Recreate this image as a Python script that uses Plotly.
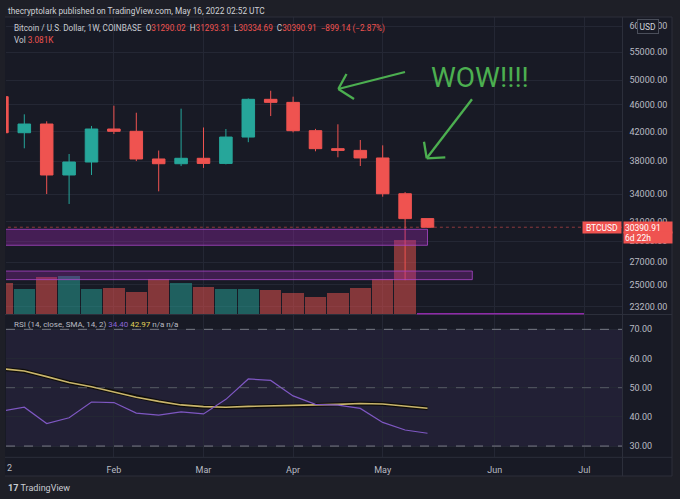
import math
import pandas as pd
import plotly.graph_objects as go

# ---------------- data ----------------
dates = ["2022-01-03", "2022-01-10", "2022-01-17", "2022-01-24", "2022-01-31",
         "2022-02-07", "2022-02-14", "2022-02-21", "2022-02-28", "2022-03-07",
         "2022-03-14", "2022-03-21", "2022-03-28", "2022-04-04", "2022-04-11",
         "2022-04-18", "2022-04-25", "2022-05-02", "2022-05-09", "2022-05-16"]
opens = [47280, 41850, 43100, 36270, 37900, 42380, 42050, 38290, 37680, 38380,
         37720, 41240, 46860, 46380, 42140, 39650, 39420, 38420, 34040, 31290.02]
highs = [47570, 44540, 43500, 38940, 42820, 45860, 44780, 39400, 45400, 42600,
         42380, 47000, 48240, 47280, 42400, 43060, 40830, 40100, 34230, 31293.31]
lows = [40610, 39700, 34010, 32880, 36270, 41670, 38020, 34320, 37380, 37150,
        37600, 40530, 44280, 41900, 39300, 38510, 37390, 33700, 25400, 30334.69]
closes = [41850, 43100, 36270, 37900, 42380, 42050, 38290, 37680, 38380, 37720,
          41240, 46860, 46380, 42140, 39650, 39420, 38420, 34040, 31290.05, 30390.91]
volumes_k = [94, 76, 115, 116, 76, 80, 69, 107, 94, 84,
             76, 78, 74, 66, 52, 64, 80, 109, 228, 3.081]
rsi_values = [42.0, 43.3, 37.7, 39.7, 45.1, 44.9, 41.3, 40.6, 41.7, 41.0,
              46.0, 53.0, 52.5, 47.2, 44.3, 44.0, 42.9, 38.1, 35.5, 34.40]
rsi_sma = [56.5, 55.7, 53.8, 51.8, 50.3, 48.6, 46.7, 45.3, 44.1, 43.5,
           43.3, 43.6, 43.7, 43.8, 44.1, 44.3, 44.6, 44.4, 43.7, 42.97]
price_ticks = [23200, 25000, 27000, 29000, 31000, 34000, 38000, 42000, 46000,
               50000, 55000, 60000]
rsi_ticks = [30, 40, 50, 60, 70]
rsi_bands = [30, 50, 70]
month_ticks = ["2022-02-07", "2022-03-07", "2022-04-04", "2022-05-02",
               "2022-06-06", "2022-07-04"]
month_labels = ["Feb", "Mar", "Apr", "May", "Jun", "Jul"]
zone_upper = [28590, 30180]
zone_lower = [25450, 26200]
zone_upper_end = "2022-05-16"
zone_lower_end = "2022-05-30"

# ---------------- layout helpers ----------------
W, H = 680, 499
def fx(p): return p / W
def fy(p): return 1 - p / H

BG_OUT = "#1e1f27"
BG = "#181a25"
GRID = "#242734"
BORDER = "#2c2f3b"
TXT = "#b8bbc3"
RED = "#ef5350"
GREEN = "#26a69a"
FONT = "Roboto"

P0, Y0, K = 60000.0, 26.3, 295.4
def price_at(py): return P0 * math.exp(-(py - Y0) / K)
def rsi_at(py): return 50 - (py - 387.7) / 2.918

MAIN_TOP, MAIN_BOT = 17, 314
RSI_TOP, RSI_BOT = 315, 456.7
PX_L, PX_R = 6, 622.5
t0 = pd.Timestamp(dates[0])
PX_PER_DAY = 3.2
x_start = t0 + pd.Timedelta(days=(PX_L - 1.9) / PX_PER_DAY)
x_end = t0 + pd.Timedelta(days=(PX_R - 1.9) / PX_PER_DAY)
xr = [x_start.strftime("%Y-%m-%d %H:%M:%S"), x_end.strftime("%Y-%m-%d %H:%M:%S")]

fig = go.Figure()

# volume (base axis y, linear)
vol_colors = ["rgba(38,166,154,0.5)" if c >= o else "rgba(239,83,80,0.5)"
              for o, c in zip(opens, closes)]
fig.add_trace(go.Bar(x=dates, y=volumes_k, marker=dict(color=vol_colors, line=dict(width=0)),
                     width=6.72 * 86400000, xaxis="x", yaxis="y", showlegend=False,
                     hoverinfo="skip"))

# candles (overlay axis y3, log)
fig.add_trace(go.Candlestick(x=dates, open=opens, high=highs, low=lows, close=closes,
                             increasing=dict(line=dict(color=GREEN, width=1), fillcolor=GREEN),
                             decreasing=dict(line=dict(color=RED, width=1), fillcolor=RED),
                             whiskerwidth=0, xaxis="x", yaxis="y3", showlegend=False,
                             hoverinfo="skip"))

# current price dotted line
fig.add_trace(go.Scatter(x=[dates[0], "2022-08-01"], y=[closes[-1], closes[-1]],
                         mode="lines", line=dict(color="rgba(239,83,80,0.55)", width=1, dash="dot"),
                         xaxis="x", yaxis="y3", showlegend=False, hoverinfo="skip"))

# RSI lines
fig.add_trace(go.Scatter(x=dates, y=rsi_sma, mode="lines",
                         line=dict(color="rgba(15,13,8,0.95)", width=4),
                         xaxis="x2", yaxis="y2", showlegend=False, hoverinfo="skip"))
fig.add_trace(go.Scatter(x=dates, y=rsi_sma, mode="lines",
                         line=dict(color="#c9b56c", width=1.6),
                         xaxis="x2", yaxis="y2", showlegend=False, hoverinfo="skip"))
fig.add_trace(go.Scatter(x=dates, y=rsi_values, mode="lines",
                         line=dict(color="#7e57c2", width=1.2),
                         xaxis="x2", yaxis="y2", showlegend=False, hoverinfo="skip"))

shapes = []
# chart panel background
shapes.append(dict(type="rect", xref="paper", yref="paper", x0=fx(5), x1=fx(672),
                   y0=fy(476), y1=fy(MAIN_TOP), fillcolor=BG, line=dict(width=0), layer="below"))
# RSI band fill
shapes.append(dict(type="rect", xref="x2 domain", yref="y2", x0=0, x1=1,
                   y0=rsi_bands[0], y1=rsi_bands[2], fillcolor="rgba(126,87,194,0.1)",
                   line=dict(width=0), layer="below"))
for b in rsi_bands:
    shapes.append(dict(type="line", xref="x2 domain", yref="y2", x0=0, x1=1, y0=b, y1=b,
                       line=dict(color="#787b86" if b != 50 else "rgba(120,123,134,0.6)",
                                 width=1, dash="dash"), layer="above"))
# borders
for (a, b, c, d) in [(PX_R, MAIN_TOP, PX_R, 476), (5, 314.5, 672, 314.5),
                     (5, 457.3, 672, 457.3), (5, 476, 672, 476), (5, MAIN_TOP, 672, MAIN_TOP),
                     (672, MAIN_TOP, 672, 476)]:
    shapes.append(dict(type="line", xref="paper", yref="paper", x0=fx(a), y0=fy(b),
                       x1=fx(c), y1=fy(d), line=dict(color=BORDER, width=1), layer="above"))
# purple zones
shapes.append(dict(type="rect", xref="x", yref="y3", x0="2021-12-01", x1=zone_upper_end,
                   y0=zone_upper[0], y1=zone_upper[1], fillcolor="rgba(156,39,176,0.35)",
                   line=dict(color="rgba(170,70,200,0.8)", width=1), layer="above"))
shapes.append(dict(type="rect", xref="x", yref="y3", x0="2021-12-01", x1=zone_lower_end,
                   y0=zone_lower[0], y1=zone_lower[1], fillcolor="rgba(156,39,176,0.30)",
                   line=dict(color="rgba(170,70,200,0.8)", width=1), layer="above"))
# bottom purple stroke
shapes.append(dict(type="line", xref="paper", yref="paper", x0=fx(417), x1=fx(584),
                   y0=fy(313.7), y1=fy(313.7), line=dict(color="#8e2aa8", width=1.5)))
# green hand-drawn arrows
GC = "#4caf50"
def seg(x0, y0, x1, y1):
    return dict(type="line", xref="paper", yref="paper", x0=fx(x0), y0=fy(y0),
                x1=fx(x1), y1=fy(y1), line=dict(color=GC, width=2.3))
shapes += [seg(405, 72, 338.3, 89), seg(338.3, 89, 346.5, 74), seg(338.3, 89, 354, 99),
           seg(472, 99.3, 426.7, 158.3), seg(426.7, 158.3, 424, 141.7),
           seg(426.7, 158.3, 445.3, 157.3)]

annotations = []
def txt(x, y, text, size=8.2, color=TXT, xanchor="left", **kw):
    d = dict(xref="paper", yref="paper", x=fx(x), y=fy(y), text=text, showarrow=False,
             xanchor=xanchor, yanchor="middle", font=dict(family=FONT, size=size, color=color))
    d.update(kw)
    annotations.append(d)

sp = "\u00a0"
txt(6, 10.7, "thecryptolark published on TradingView.com, May 16, 2022 02:52 UTC",
    size=8.3, color="#cfd1d6")
chg = closes[-1] - closes[-2]
pct = chg / closes[-2] * 100
legend = ("Bitcoin / U.S. Dollar, 1W, COINBASE" + sp * 2 +
          "O<span style='color:{r}'>{o:.2f}</span>{s}H<span style='color:{r}'>{h:.2f}</span>{s}"
          "L<span style='color:{r}'>{l:.2f}</span>{s}C<span style='color:{r}'>{c:.2f}</span>{s}"
          "<span style='color:{r}'>\u2212{a:.2f} (\u2212{p:.2f}%)</span>").format(
    r=RED, o=opens[-1], h=highs[-1], l=lows[-1], c=closes[-1], s=sp * 2, a=abs(chg), p=abs(pct))
txt(12, 28, legend, size=8.2, color="#c9ccd2")
txt(12, 39.5, "Vol" + sp + "<span style='color:{}'>{:.3f}K</span>".format(RED, volumes_k[-1]),
    size=8.2, color="#c9ccd2")
txt(12, 324.5, "RSI (14, close, SMA, 14, 2)" + sp +
    "<span style='color:#8a64d6'>{:.2f}</span>".format(rsi_values[-1]) + sp +
    "<span style='color:#e3d35a'>{:.2f}</span>".format(rsi_sma[-1]) + sp + "n/a" + sp + "n/a",
    size=8.0, color="#b8bbc3")
txt(480, 77, "WOW!!!!", size=28, color=GC, xanchor="center")
txt(9, 467.7, "2", size=9, color=TXT, xanchor="center")
txt(6, 488, "<b>17</b>" + sp + "TradingView", size=9, color="#c9ccd2")
# USD box
txt(648, 26.5, "USD", size=8.5, color="#d1d4dc", xanchor="center", bgcolor=BG,
    bordercolor="#4a4e5a", borderwidth=1, borderpad=1.5)
# BTCUSD / price labels anchored at last close
ly = math.log10(closes[-1])
annotations.append(dict(xref="paper", yref="y3", x=fx(PX_R - 0.5), y=ly,
                        text="BTCUSD", showarrow=False, xanchor="right", yanchor="middle",
                        font=dict(family=FONT, size=8.5, color="white"), bgcolor=RED,
                        borderpad=1, width=36, height=9))
annotations.append(dict(xref="paper", yref="y3", x=fx(PX_R), y=ly,
                        text="{:.2f}".format(closes[-1]), showarrow=False,
                        xanchor="left", yanchor="middle", align="left",
                        font=dict(family=FONT, size=8.5, color="white"), bgcolor=RED,
                        borderpad=1, width=46, height=9))
annotations.append(dict(xref="paper", yref="y3", x=fx(PX_R), y=ly, yshift=-10,
                        text="6d 22h", showarrow=False,
                        xanchor="left", yanchor="middle", align="left",
                        font=dict(family=FONT, size=8.5, color="white"), bgcolor=RED,
                        borderpad=1, width=46, height=9))

fig.update_layout(
    width=W, height=H, autosize=False, margin=dict(l=0, r=0, t=0, b=0, pad=0),
    paper_bgcolor=BG_OUT, plot_bgcolor=BG, boxgap=0.2, bargap=0, hovermode=False,
    font=dict(family=FONT, size=9, color=TXT),
    xaxis=dict(domain=[fx(PX_L), fx(PX_R)], range=xr, anchor="y", type="date",
               rangeslider=dict(visible=False), showticklabels=False,
               tickvals=month_ticks, showgrid=True, gridcolor=GRID, zeroline=False,
               showline=False, ticks=""),
    xaxis2=dict(domain=[fx(PX_L), fx(PX_R)], range=xr, anchor="y2", type="date",
                matches="x", tickvals=month_ticks, ticktext=month_labels, showgrid=True,
                gridcolor=GRID, zeroline=False, showline=False, ticks="",
                ticklabelstandoff=6, tickfont=dict(family=FONT, size=9, color=TXT)),
    yaxis=dict(domain=[fy(MAIN_BOT), fy(MAIN_TOP)], range=[0, (MAIN_BOT - MAIN_TOP) * 3.08],
               anchor="x", showticklabels=False, showgrid=False, zeroline=False),
    yaxis3=dict(domain=[fy(MAIN_BOT), fy(MAIN_TOP)], overlaying="y", anchor="x", side="right",
                type="log",
                range=[math.log10(price_at(MAIN_BOT)), math.log10(price_at(MAIN_TOP))],
                tickvals=price_ticks, ticktext=["{:.2f}".format(v) for v in price_ticks],
                showgrid=True, gridcolor=GRID, zeroline=False, ticks="", ticklabelstandoff=6,
                tickfont=dict(family=FONT, size=9, color=TXT)),
    yaxis2=dict(domain=[fy(RSI_BOT), fy(RSI_TOP)], range=[rsi_at(RSI_BOT), rsi_at(RSI_TOP)],
                anchor="x2", side="right", tickvals=rsi_ticks,
                ticktext=["{:.2f}".format(v) for v in rsi_ticks], showgrid=True,
                gridcolor=GRID, zeroline=False, ticks="", ticklabelstandoff=6,
                tickfont=dict(family=FONT, size=9, color=TXT)),
    shapes=shapes, annotations=annotations, showlegend=False,
)

fig.write_html("out.html", config={"displayModeBar": False, "staticPlot": True},
               post_script="document.body.style.margin='0';document.body.style.overflow='hidden';")
